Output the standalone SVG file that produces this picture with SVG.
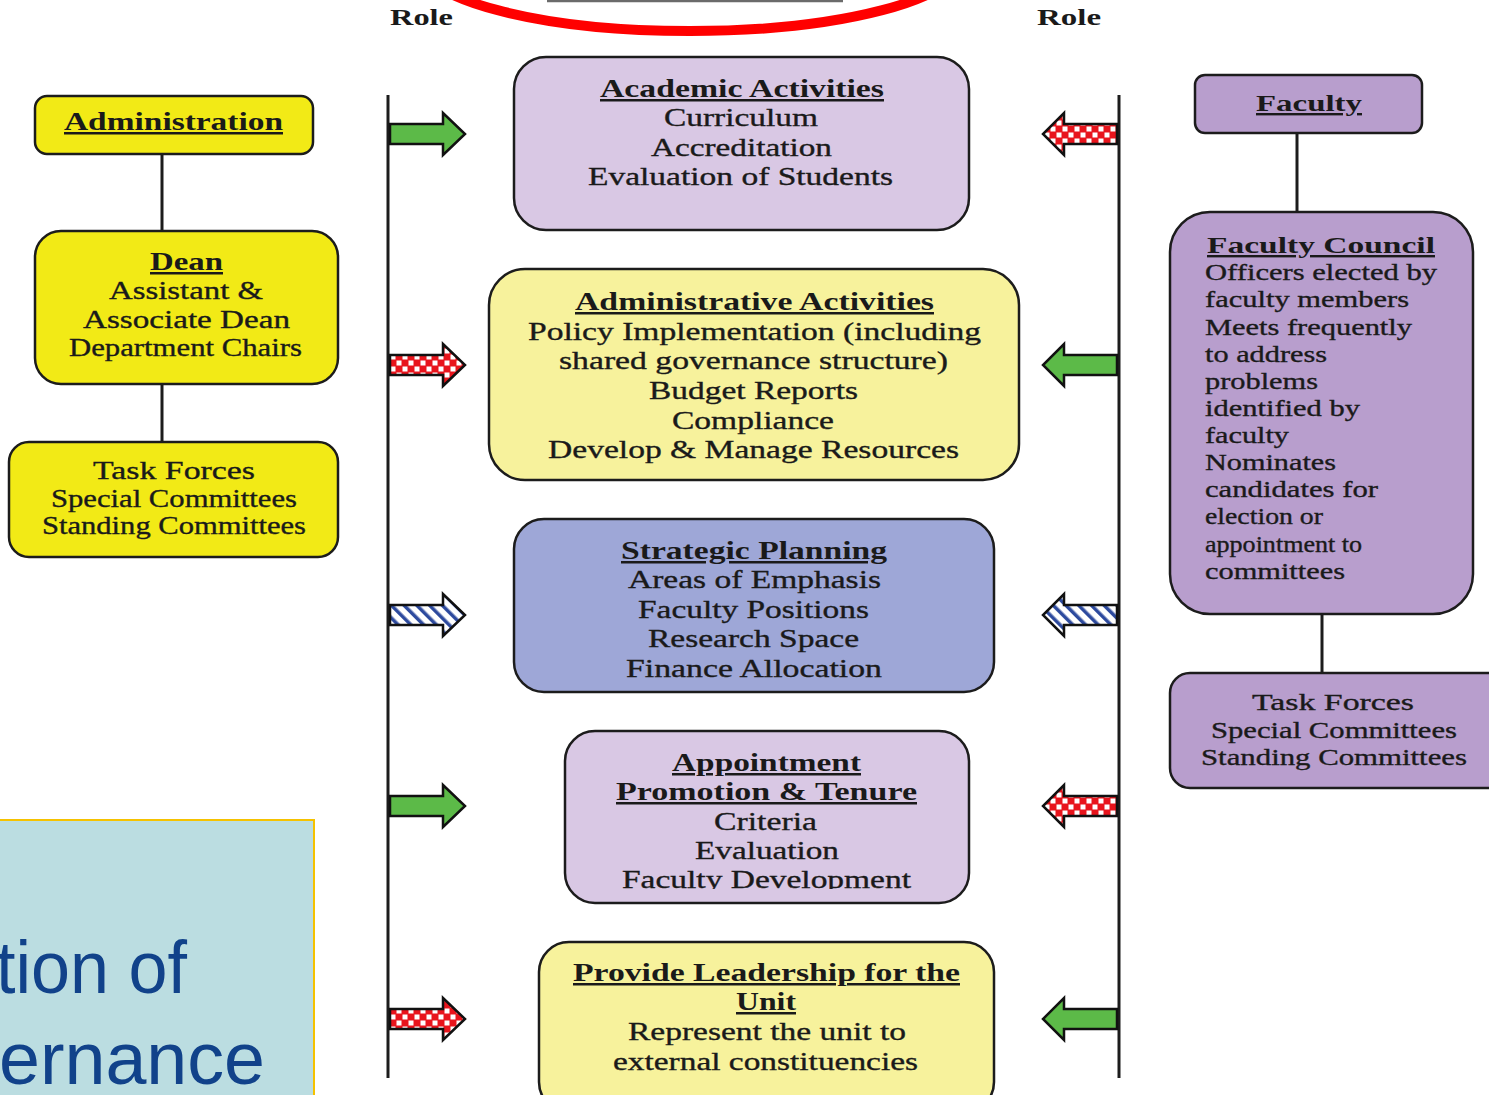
<svg xmlns="http://www.w3.org/2000/svg" width="1489" height="1095" viewBox="0 0 1489 1095">
<style>
  text { font-family: "Liberation Serif", "Times New Roman", serif; fill: #1a1a1a; }
  .t { font-size: 25px; font-weight: bold; text-decoration: underline; }
  .b { font-size: 25px; stroke: #1a1a1a; stroke-width: 0.35; }
  .rt { font-size: 24px; font-weight: bold; text-decoration: underline; }
  .rb { font-size: 23px; stroke: #1a1a1a; stroke-width: 0.35; }
  .role { font-size: 24px; font-weight: bold; }
  .box { stroke: #1c1c1c; stroke-width: 2.5; }
  .yel { fill: #f2ea16; }
  .lyel { fill: #f7f29c; }
  .lav { fill: #d9c8e4; }
  .pur { fill: #b89ecd; }
  .blu { fill: #9ea7d7; }
  .ln { stroke: #1c1c1c; stroke-width: 3; fill: none; }
  .arr { stroke: #111; stroke-width: 2.5; stroke-linejoin: miter; }
  .green { fill: #5cba48; }
  .check { fill: url(#checker); }
  .stripe { fill: url(#stripes); }
  .big { font-family: "Liberation Sans", Arial, sans-serif; font-size: 74px; fill: #11428a; }
</style>
<defs>
  <pattern id="checker" width="12" height="12" patternUnits="userSpaceOnUse">
    <rect width="12" height="12" fill="#e8141c"/>
    <rect x="0.5" y="0.5" width="5" height="5" fill="#ffffff"/>
    <rect x="6.5" y="6.5" width="5" height="5" fill="#ffffff"/>
  </pattern>
  <pattern id="stripes" width="9" height="9" patternUnits="userSpaceOnUse" patternTransform="rotate(-45)">
    <rect width="9" height="9" fill="#ffffff"/>
    <rect width="3.5" height="9" fill="#2d4a9e"/>
  </pattern>
  <clipPath id="clipAppt"><rect x="560" y="725" width="420" height="164"/></clipPath>
</defs>
<rect width="1489" height="1095" fill="#ffffff"/>

<!-- top partial elements -->
<g id="top-highlight">
  <path d="M547 1 L843 1" stroke="#6b6b6b" stroke-width="2.5" fill="none"/>
  <ellipse cx="690" cy="-40" rx="272" ry="71" fill="none" stroke="#ff0000" stroke-width="10"/>
</g>

<g id="role-labels">
  <text class="role" x="390" y="25" textLength="63" lengthAdjust="spacingAndGlyphs">Role</text>
  <text class="role" x="1037" y="25" textLength="64" lengthAdjust="spacingAndGlyphs">Role</text>
</g>

<!-- connectors -->
<g id="connectors">
  <line class="ln" x1="162" y1="154" x2="162" y2="231"/>
  <line class="ln" x1="162" y1="384" x2="162" y2="442"/>
  <line class="ln" x1="1297" y1="133" x2="1297" y2="212"/>
  <line class="ln" x1="1322" y1="614" x2="1322" y2="673"/>
  <line class="ln" x1="388" y1="95" x2="388" y2="1078"/>
  <line class="ln" x1="1119" y1="95" x2="1119" y2="1078"/>
  <!-- right-pointing arrows (left axis) -->
  <polygon class="arr green" points="390,124 443,124 443,113 465,134 443,155 443,144 390,144"/>
  <polygon class="arr check" points="390,355 443,355 443,344 465,365 443,386 443,375 390,375"/>
  <polygon class="arr stripe" points="390,605 443,605 443,594 465,615 443,636 443,625 390,625"/>
  <polygon class="arr green" points="390,796 443,796 443,785 465,806 443,827 443,816 390,816"/>
  <polygon class="arr check" points="390,1009 443,1009 443,998 465,1019 443,1040 443,1029 390,1029"/>
  <!-- left-pointing arrows (right axis) -->
  <polygon class="arr check" points="1117,124 1064,124 1064,113 1043,134 1064,155 1064,144 1117,144"/>
  <polygon class="arr green" points="1117,355 1064,355 1064,344 1043,365 1064,386 1064,375 1117,375"/>
  <polygon class="arr stripe" points="1117,605 1064,605 1064,594 1043,615 1064,636 1064,625 1117,625"/>
  <polygon class="arr check" points="1117,796 1064,796 1064,785 1043,806 1064,827 1064,816 1117,816"/>
  <polygon class="arr green" points="1117,1009 1064,1009 1064,998 1043,1019 1064,1040 1064,1029 1117,1029"/>
</g>

<!-- left column -->
<g id="administration">
  <rect class="box yel" x="35" y="96" width="278" height="58" rx="12"/>
  <text class="t" x="64" y="130" textLength="219" lengthAdjust="spacingAndGlyphs">Administration</text>
</g>
<g id="dean">
  <rect class="box yel" x="35" y="231" width="303" height="153" rx="26"/>
  <text class="t" x="150" y="270" textLength="73" lengthAdjust="spacingAndGlyphs">Dean</text>
  <text class="b" x="109" y="299" textLength="154" lengthAdjust="spacingAndGlyphs">Assistant &amp;</text>
  <text class="b" x="83" y="328" textLength="207" lengthAdjust="spacingAndGlyphs">Associate Dean</text>
  <text class="b" x="69" y="356" textLength="233" lengthAdjust="spacingAndGlyphs">Department Chairs</text>
</g>
<g id="admin-task-forces">
  <rect class="box yel" x="9" y="442" width="329" height="115" rx="20"/>
  <text class="b" x="93" y="479" textLength="162" lengthAdjust="spacingAndGlyphs">Task Forces</text>
  <text class="b" x="51" y="507" textLength="246" lengthAdjust="spacingAndGlyphs">Special Committees</text>
  <text class="b" x="42" y="534" textLength="264" lengthAdjust="spacingAndGlyphs">Standing Committees</text>
</g>

<!-- center column -->
<g id="academic-activities">
  <rect class="box lav" x="514" y="57" width="455" height="173" rx="32"/>
  <text class="t" x="600" y="97" textLength="284" lengthAdjust="spacingAndGlyphs">Academic Activities</text>
  <text class="b" x="664" y="126" textLength="154" lengthAdjust="spacingAndGlyphs">Curriculum</text>
  <text class="b" x="651" y="156" textLength="181" lengthAdjust="spacingAndGlyphs">Accreditation</text>
  <text class="b" x="588" y="185" textLength="305" lengthAdjust="spacingAndGlyphs">Evaluation of Students</text>
</g>
<g id="administrative-activities">
  <rect class="box lyel" x="489" y="269" width="530" height="211" rx="36"/>
  <text class="t" x="575" y="310" textLength="359" lengthAdjust="spacingAndGlyphs">Administrative Activities</text>
  <text class="b" x="528" y="340" textLength="453" lengthAdjust="spacingAndGlyphs">Policy Implementation (including</text>
  <text class="b" x="559" y="369" textLength="389" lengthAdjust="spacingAndGlyphs">shared governance structure)</text>
  <text class="b" x="649" y="399" textLength="209" lengthAdjust="spacingAndGlyphs">Budget Reports</text>
  <text class="b" x="672" y="429" textLength="162" lengthAdjust="spacingAndGlyphs">Compliance</text>
  <text class="b" x="548" y="458" textLength="411" lengthAdjust="spacingAndGlyphs">Develop &amp; Manage Resources</text>
</g>
<g id="strategic-planning">
  <rect class="box blu" x="514" y="519" width="480" height="173" rx="30"/>
  <text class="t" x="621" y="559" textLength="266" lengthAdjust="spacingAndGlyphs">Strategic Planning</text>
  <text class="b" x="628" y="588" textLength="253" lengthAdjust="spacingAndGlyphs">Areas of Emphasis</text>
  <text class="b" x="638" y="618" textLength="231" lengthAdjust="spacingAndGlyphs">Faculty Positions</text>
  <text class="b" x="648" y="647" textLength="211" lengthAdjust="spacingAndGlyphs">Research Space</text>
  <text class="b" x="626" y="677" textLength="256" lengthAdjust="spacingAndGlyphs">Finance Allocation</text>
</g>
<g id="appointment">
  <rect class="box lav" x="565" y="731" width="404" height="172" rx="30"/>
  <text class="t" x="672" y="771" textLength="189" lengthAdjust="spacingAndGlyphs">Appointment</text>
  <text class="t" x="616" y="800" textLength="301" lengthAdjust="spacingAndGlyphs">Promotion &amp; Tenure</text>
  <text class="b" x="714" y="830" textLength="103" lengthAdjust="spacingAndGlyphs">Criteria</text>
  <text class="b" x="695" y="859" textLength="144" lengthAdjust="spacingAndGlyphs">Evaluation</text>
  <text class="b" x="622" y="888" textLength="289" lengthAdjust="spacingAndGlyphs" clip-path="url(#clipAppt)">Faculty Development</text>
</g>
<g id="leadership">
  <rect class="box lyel" x="539" y="942" width="455" height="170" rx="30"/>
  <text class="t" x="573" y="981" textLength="387" lengthAdjust="spacingAndGlyphs">Provide Leadership for the</text>
  <text class="t" x="736" y="1010" textLength="60" lengthAdjust="spacingAndGlyphs">Unit</text>
  <text class="b" x="628" y="1040" textLength="278" lengthAdjust="spacingAndGlyphs">Represent the unit to</text>
  <text class="b" x="613" y="1070" textLength="305" lengthAdjust="spacingAndGlyphs">external constituencies</text>
</g>

<!-- right column -->
<g id="faculty">
  <rect class="box pur" x="1195" y="75" width="227" height="58" rx="10"/>
  <text class="rt" x="1256" y="111" textLength="106" lengthAdjust="spacingAndGlyphs">Faculty</text>
</g>
<g id="faculty-council">
  <rect class="box pur" x="1170" y="212" width="303" height="402" rx="40"/>
  <text class="rt" x="1207" y="253" textLength="228" lengthAdjust="spacingAndGlyphs">Faculty Council</text>
  <text class="rb" x="1205" y="280" textLength="232" lengthAdjust="spacingAndGlyphs">Officers elected by</text>
  <text class="rb" x="1205" y="307" textLength="204" lengthAdjust="spacingAndGlyphs">faculty members</text>
  <text class="rb" x="1205" y="335" textLength="207" lengthAdjust="spacingAndGlyphs">Meets frequently</text>
  <text class="rb" x="1205" y="362" textLength="122" lengthAdjust="spacingAndGlyphs">to address</text>
  <text class="rb" x="1205" y="389" textLength="113" lengthAdjust="spacingAndGlyphs">problems</text>
  <text class="rb" x="1205" y="416" textLength="155" lengthAdjust="spacingAndGlyphs">identified by</text>
  <text class="rb" x="1205" y="443" textLength="84" lengthAdjust="spacingAndGlyphs">faculty</text>
  <text class="rb" x="1205" y="470" textLength="131" lengthAdjust="spacingAndGlyphs">Nominates</text>
  <text class="rb" x="1205" y="497" textLength="173" lengthAdjust="spacingAndGlyphs">candidates for</text>
  <text class="rb" x="1205" y="524" textLength="118" lengthAdjust="spacingAndGlyphs">election or</text>
  <text class="rb" x="1205" y="552" textLength="157" lengthAdjust="spacingAndGlyphs">appointment to</text>
  <text class="rb" x="1205" y="579" textLength="140" lengthAdjust="spacingAndGlyphs">committees</text>
</g>
<g id="faculty-task-forces">
  <rect class="box pur" x="1170" y="673" width="340" height="115" rx="20"/>
  <text class="rb" x="1252" y="710" textLength="162" lengthAdjust="spacingAndGlyphs">Task Forces</text>
  <text class="rb" x="1211" y="738" textLength="246" lengthAdjust="spacingAndGlyphs">Special Committees</text>
  <text class="rb" x="1201" y="765" textLength="266" lengthAdjust="spacingAndGlyphs">Standing Committees</text>
</g>

<!-- bottom-left title box (cut off) -->
<g id="title-box">
  <rect x="-10" y="820" width="324" height="290" fill="#bbdde1" stroke="#f5c200" stroke-width="2"/>
  <text class="big" x="-4" y="993" textLength="191" lengthAdjust="spacingAndGlyphs">tion of</text>
  <text class="big" x="-1" y="1084" textLength="266" lengthAdjust="spacingAndGlyphs">ernance</text>
</g>
</svg>
